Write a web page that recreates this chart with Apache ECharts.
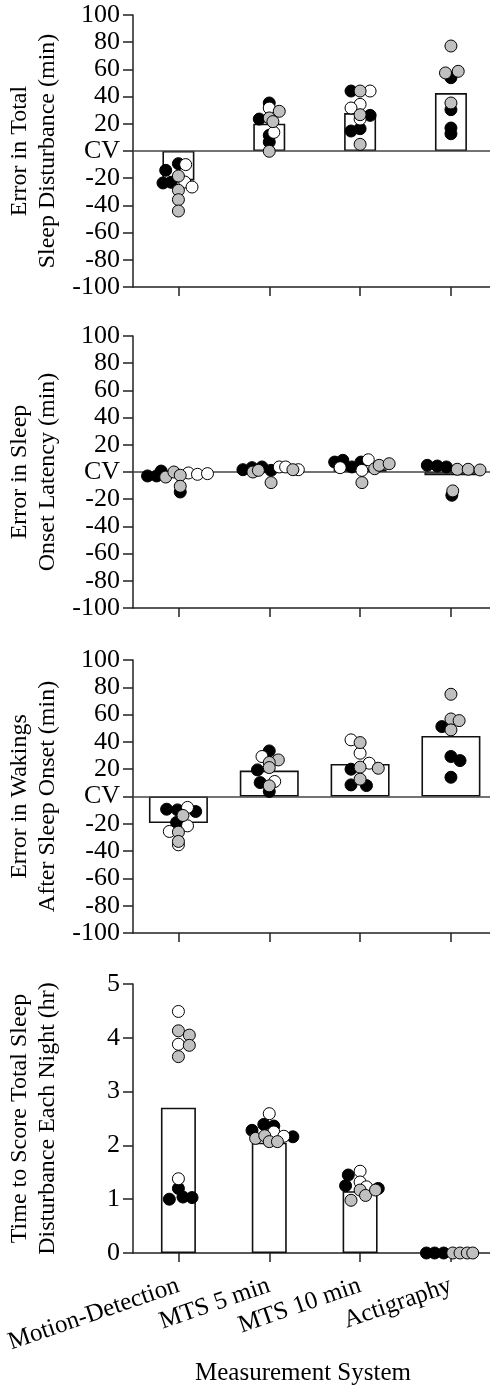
<!DOCTYPE html>
<html>
<head>
<meta charset="utf-8">
<script src="https://cdn.jsdelivr.net/npm/echarts@6/dist/echarts.min.js"></script>
<style>
html,body{margin:0;padding:0;background:#fff;}
#chart{width:490px;height:1387px;}
</style>
</head>
<body>
<div id="chart"></div>
<script>
// ---------- DATA ----------
const categories = ['Motion-Detection', 'MTS 5 min', 'MTS 10 min', 'Actigraphy'];
const categoryIndex = [0, 1, 2, 3];
const errTicks = [-100, -80, -60, -40, -20, 0, 20, 40, 60, 80, 100];
const timeTicks = [0, 1, 2, 3, 4, 5];

// each point: [category index, horizontal jitter (category units), value]
// Panel 1: Error in Total Sleep Disturbance (min)
const tsdMeans = [-21.6, 20.1, 27.9, 42.6];
const tsdBlack = [[0,-0.14,-14.2],[0,0,-9.3],[0,-0.17,-23.5],[0,-0.08,-23],[1,0,35.3],[1,-0.11,23.5],[1,0,11.5],[1,0,6.6],[2,-0.10,44.1],[2,0.11,26.2],[2,-0.10,14.7],[2,0,16.4],[3,0,53.9],[3,0,30.4],[3,0,16.9],[3,0,12.7]];
const tsdWhite = [[0,0.08,-10],[0,0.07,-22.8],[0,0.15,-26.5],[1,0,31.6],[1,0.05,13.7],[2,0.11,44.1],[2,0,34.3],[2,-0.10,31.6],[2,0,23.5]];
const tsdGray  = [[0,0,-18.4],[0,0,-28.9],[0,0,-35.8],[0,0,-44.1],[1,0.11,29.2],[1,0,24.3],[1,0.04,21.6],[1,0,-0.2],[2,0,44.1],[2,0,26.7],[2,0,4.9],[3,0,77.2],[3,-0.06,57.4],[3,0.08,58.6],[3,0,35.3]];

// Panel 2: Error in Sleep Onset Latency (min)
const solMeans = [-2.5, 1.5, 2.0, -2.4];
const solBlack = [[0,-0.34,-2.9],[0,-0.24,-2.9],[0,-0.19,0.7],[0,0.02,-14.7],[1,-0.29,1.7],[1,-0.19,3.2],[1,-0.08,3.7],[1,0.02,1.2],[2,-0.28,7.3],[2,-0.19,8.6],[2,-0.09,3.7],[2,0.01,7.3],[3,-0.26,4.9],[3,-0.15,4.4],[3,-0.05,3.7],[3,0.01,-17.1]];
const solWhite = [[0,0.11,-0.7],[0,0.21,-1.7],[0,0.32,-1.2],[1,0.11,3.7],[1,0.18,3.7],[1,0.32,1.7],[2,-0.22,3.2],[2,0.02,1.2],[2,0.09,9.0]];
const solGray  = [[0,-0.14,-3.7],[0,-0.05,0],[0,0.02,-2.4],[0,0.02,-10.5],[1,-0.18,0],[1,-0.12,1.2],[1,0.02,-7.8],[1,0.26,1.7],[2,0.02,-7.8],[2,0.16,2.4],[2,0.21,4.9],[2,0.32,6.1],[3,0.02,-13.9],[3,0.07,2.0],[3,0.19,2.0],[3,0.32,1.5]];

// Panel 3: Error in Wakings After Sleep Onset (min)
const wasoMeans = [-19.5, 19.0, 23.9, 44.4];
const wasoBlack = [[0,-0.13,-9.3],[0,-0.01,-9.8],[0,0.19,-11],[0,-0.02,-19],[1,0,33.4],[1,-0.13,19.5],[1,-0.10,10.2],[1,0,3.7],[2,-0.10,20],[2,-0.10,8.5],[2,0.07,8],[3,-0.10,51.2],[3,0,29.3],[3,0.10,26.3],[3,0,14.1]];
const wasoWhite = [[0,0.10,-8],[0,0.10,-21.5],[0,-0.10,-25.6],[0,0,-35.4],[1,-0.08,29.3],[1,0.06,11],[2,-0.10,41.5],[2,0,31.7],[2,0.10,24.4]];
const wasoGray  = [[0,0.05,-13.9],[0,0,-26.1],[0,0,-32.9],[1,0.10,26.8],[1,0,24.9],[1,0,21.2],[1,0,7.8],[2,0,39.5],[2,0.20,20.7],[2,0,21.5],[2,0,12.7],[3,0,74.9],[3,0,56.8],[3,0.09,55.6],[3,0,48.8]];

// Panel 4: Time to Score Total Sleep Disturbance Each Night (hr)
const timeMeans = [2.70, 2.05, 1.15, 0];
const timeBlack = [[0,0,1.20],[0,-0.10,1.00],[0,0.05,1.04],[0,0.15,1.03],[1,-0.19,2.28],[1,-0.06,2.39],[1,0.05,2.36],[1,0.26,2.16],[2,-0.13,1.45],[2,-0.16,1.25],[2,0.20,1.20],[3,-0.27,0],[3,-0.18,0],[3,-0.08,0]];
const timeWhite = [[0,0,4.49],[0,0,3.88],[0,0,1.38],[1,0,2.59],[1,0.05,2.25],[1,0.16,2.17],[2,0,1.52],[2,0,1.32],[2,0.07,1.23]];
const timeGray  = [[0,0,4.13],[0,0.12,4.05],[0,0.12,3.86],[0,0,3.65],[1,-0.15,2.13],[1,-0.05,2.18],[1,0,2.07],[1,0.09,2.07],[2,0,1.17],[2,-0.10,0.98],[2,0.06,1.07],[2,0.17,1.17],[3,0.02,0],[3,0.10,0],[3,0.18,0],[3,0.24,0]];

// ---------- CHART ----------
const FONT = 'Liberation Serif';
const panels = [
  {name: 'Error in Total\nSleep Disturbance (min)', means: tsdMeans, black: tsdBlack, white: tsdWhite, gray: tsdGray, ticks: errTicks, top: 15, height: 272, barWidth: 32, zero: true, labels: false},
  {name: 'Error in Sleep\nOnset Latency (min)', means: solMeans, black: solBlack, white: solWhite, gray: solGray, ticks: errTicks, top: 336, height: 272, barWidth: 53, zero: true, labels: false},
  {name: 'Error in Wakings\nAfter Sleep Onset (min)', means: wasoMeans, black: wasoBlack, white: wasoWhite, gray: wasoGray, ticks: errTicks, top: 660, height: 273, barWidth: 59, zero: true, labels: false},
  {name: 'Time to Score Total Sleep\nDisturbance Each Night (hr)', means: timeMeans, black: timeBlack, white: timeWhite, gray: timeGray, ticks: timeTicks, top: 984, height: 269, barWidth: 35, zero: false, labels: true}
];

const grid = [], xAxis = [], yAxis = [], series = [];
panels.forEach((p, i) => {
  grid.push({left: 133, right: 0, top: p.top, height: p.height, containLabel: false,
    outerBoundsMode: 'none', outerBounds: {left: -400, right: -400, top: -400, bottom: -400}});
  const tmin = p.ticks[0], tmax = p.ticks[p.ticks.length - 1];
  xAxis.push({
    type: 'value', gridIndex: i, min: -0.5, max: 3.43, splitLine: {show: false},
    axisLine: {show: true, onZero: false, lineStyle: {color: '#222', width: 1.5}},
    axisTick: {show: true, customValues: categoryIndex, length: 9, lineStyle: {color: '#222', width: 1.5}},
    axisLabel: p.labels ? {show: true, customValues: categoryIndex, rotate: 19, margin: 32,
      fontFamily: FONT, fontSize: 25, color: '#000', hideOverlap: false,
      formatter: v => categories[Math.round(v)]} : {show: false}
  });
  yAxis.push({
    type: 'value', gridIndex: i, min: tmin, max: tmax, interval: p.ticks[1] - p.ticks[0],
    splitLine: {show: false},
    axisLine: {show: true, onZero: false, lineStyle: {color: '#222', width: 1.5}},
    axisTick: {show: true, length: 10, lineStyle: {color: '#222', width: 1.5}},
    axisLabel: {fontFamily: FONT, fontSize: 26, color: '#000', margin: 13, hideOverlap: false,
      formatter: v => (p.zero && v === 0) ? 'CV' : String(v)},
    name: p.name, nameLocation: 'middle', nameGap: 71, nameRotate: 90,
    nameTextStyle: {fontFamily: FONT, fontSize: 24, color: '#000', lineHeight: 28}
  });
  const bar = {
    type: 'bar', xAxisIndex: i, yAxisIndex: i,
    data: p.means.map((m, k) => [categoryIndex[k], m]), barWidth: p.barWidth,
    itemStyle: {color: '#fff', borderColor: '#111', borderWidth: 1.6}, silent: true, z: 1
  };
  if (p.zero) {
    bar.markLine = {silent: true, symbol: 'none', label: {show: false},
      lineStyle: {color: '#444', type: 'solid', width: 1.5}, data: [{yAxis: 0}], z: 2};
  }
  series.push(bar);
  const toPts = arr => arr.map(d => [categoryIndex[d[0]] + d[1], d[2]]);
  const sc = (arr, fill, border, z) => ({
    type: 'scatter', xAxisIndex: i, yAxisIndex: i, data: toPts(arr),
    symbol: 'circle', symbolSize: 12, silent: true, z: z,
    itemStyle: {color: fill, borderColor: border, borderWidth: 1, opacity: 1}
  });
  series.push(sc(p.black, '#000', '#000', 3));
  series.push(sc(p.white, '#fff', '#000', 4));
  series.push(sc(p.gray, '#c0c0c0', '#000', 5));
});

const chart = echarts.init(document.getElementById('chart'), null, {renderer: 'canvas'});
chart.setOption({
  animation: false,
  backgroundColor: '#fff',
  grid, xAxis, yAxis, series,
  graphic: [{type: 'text', x: 303, y: 1373,
    style: {text: 'Measurement System', font: '25px "Liberation Serif"', fill: '#000', align: 'center', verticalAlign: 'middle'}}]
});
</script>
</body>
</html>
